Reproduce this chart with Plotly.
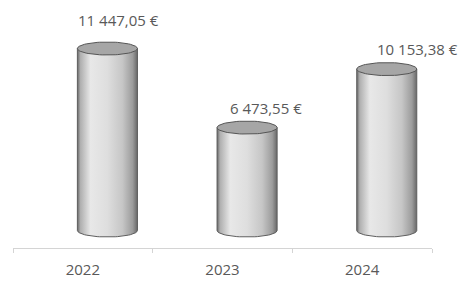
import numpy as np
import plotly.graph_objects as go

# ---- data ----
years = ["2022", "2023", "2024"]
values = [11447.05, 6473.55, 10153.38]


def fmt_eur(v):
    s = f"{v:,.2f}"  # 11,447.05
    s = s.replace(",", " ").replace(".", ",")
    return s + " €"


labels = [fmt_eur(v) for v in values]

# ---- style ----
depth_offset = 0.176      # 3D depth shift of the cylinders (category units)
half_w = 0.215            # cylinder radius (category units)
ry = 409                  # ellipse vertical half-axis (value units)
label_xshift = [11, 19, 31]
label_yshift = [29, 20, 20]
text_color = "#595959"
font_family = "Open Sans"

fig = go.Figure()

# invisible trace that anchors the category axis
fig.add_trace(go.Scatter(x=years, y=values, mode="markers",
                         marker=dict(opacity=0), hoverinfo="skip",
                         showlegend=False, xaxis="x", yaxis="y"))

t_top = np.linspace(0, 2 * np.pi, 73)
t_bot = np.linspace(0, -np.pi, 37)

for i, v in enumerate(values):
    c = i + depth_offset
    # body: top edge, right side, bottom half ellipse, left side
    bx = [c - half_w, c + half_w] + list(c + half_w * np.cos(t_bot)) + [c - half_w]
    by = [v, v] + list(ry * np.sin(t_bot)) + [v]
    fig.add_trace(go.Scatter(
        x=bx, y=by, xaxis="x2", yaxis="y", mode="lines", fill="toself",
        line=dict(color="#5e5e5e", width=1),
        fillgradient=dict(
            type="horizontal", start=c - half_w, stop=c + half_w,
            colorscale=[[0, "#666666"], [0.05, "#afafaf"], [0.22, "#e8e8e8"],
                        [0.5, "#dedede"], [0.75, "#c6c6c6"], [0.92, "#9c9c9c"],
                        [1, "#686868"]]),
        hoverinfo="skip", showlegend=False))
    # top ellipse
    ex = list(c + half_w * np.cos(t_top))
    ey = list(v + ry * np.sin(t_top))
    fig.add_trace(go.Scatter(
        x=ex, y=ey, xaxis="x2", yaxis="y", mode="lines", fill="toself",
        fillcolor="#a6a6a6", line=dict(color="#555555", width=1),
        hoverinfo="skip", showlegend=False))
    fig.add_annotation(x=c, y=v, xref="x2", yref="y", text=labels[i],
                       showarrow=False, xanchor="center", yanchor="middle",
                       xshift=label_xshift[i], yshift=label_yshift[i],
                       font=dict(family=font_family, size=15, color=text_color))

fig.update_layout(
    width=464, height=281,
    margin=dict(l=13, r=32, t=10, b=33),
    paper_bgcolor="white", plot_bgcolor="white",
    showlegend=False,
    xaxis=dict(type="category", categoryorder="array", categoryarray=years,
               range=[-0.5, 2.5], showgrid=False, zeroline=False,
               showline=True, linecolor="#d4d4d4", linewidth=1,
               ticks="outside", tickson="boundaries", ticklen=4,
               tickcolor="#d4d4d4", ticklabelstandoff=8, automargin=False,
               tickfont=dict(family=font_family, size=15, color=text_color)),
    xaxis2=dict(overlaying="x", range=[-0.5, 2.5], visible=False),
    yaxis=dict(range=[-1100.7, 13868.6], visible=False, showgrid=False,
               zeroline=False),
)

fig.write_html("out.html",
               config={"displayModeBar": False},
               post_script="document.body.style.margin='0';"
                           "document.body.style.overflow='hidden';")
